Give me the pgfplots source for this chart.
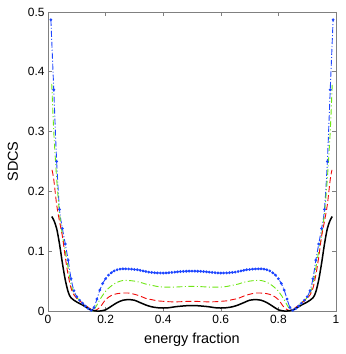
\documentclass[border=0pt]{standalone}
\usepackage{pgfplots}
\pgfplotsset{compat=1.18}
\usepackage{fontspec}
\setmainfont{Liberation Sans}

\definecolor{mblue}{RGB}{30,70,255}
\definecolor{mgreen}{RGB}{110,230,20}
\definecolor{mred}{RGB}{240,10,10}
\definecolor{axgray}{RGB}{128,128,128}

\begin{document}
\begin{tikzpicture}
\begin{axis}[
    scale only axis,
    width=288bp, height=299bp,
    xmin=0, xmax=1, ymin=0, ymax=0.5,
    xtick={0,0.2,0.4,0.6,0.8,1},
    ytick={0,0.1,0.2,0.3,0.4,0.5},
    tick align=inside,
    major tick length=4bp,
    axis line style={axgray, line width=0.8bp},
    every tick/.style={axgray, line width=0.6bp},
    ticklabel style={font=\fontsize{12}{14}\selectfont, black},
    xticklabel style={yshift=-1bp},
    /pgf/number format/assume math mode=true,
    xlabel={energy fraction},
    ylabel={SDCS},
    label style={font=\fontsize{14.5}{16}\selectfont},
    xlabel style={at={(axis description cs:0.5,-0.097)}, anchor=center},
    ylabel style={at={(axis description cs:-0.122,0.5)}, anchor=center},
    clip=true,
]
% blue, dash-dot with dots at the samples
\addplot[mblue, line width=0.9bp, smooth, dash pattern=on 6bp off 2bp on 1bp off 2bp,
    mark=*, mark size=0.9bp, mark options={solid, fill=mblue, draw=mblue}] coordinates {
(0.01,0.487) (0.02,0.37) (0.03,0.25) (0.04,0.17) (0.05,0.138) (0.06,0.112) (0.07,0.085)
(0.08,0.054) (0.09,0.034) (0.10,0.024) (0.11,0.018) (0.12,0.013) (0.13,0.008) (0.14,0.004)
(0.15,0.001) (0.16,0.006) (0.17,0.020) (0.18,0.035) (0.19,0.046) (0.20,0.054) (0.21,0.060)
(0.22,0.064) (0.23,0.067) (0.24,0.069) (0.25,0.070) (0.26,0.0705) (0.27,0.0705) (0.28,0.0703)
(0.29,0.0700) (0.30,0.0695) (0.31,0.0690) (0.32,0.0680) (0.33,0.0670) (0.34,0.0660) (0.35,0.0650)
(0.36,0.0645) (0.37,0.0640) (0.38,0.0637) (0.39,0.0635) (0.40,0.0635) (0.41,0.0637) (0.42,0.0640)
(0.43,0.0645) (0.44,0.0650) (0.45,0.0655) (0.46,0.0660) (0.47,0.0663) (0.48,0.0665) (0.49,0.0667)
(0.50,0.0668)
(0.51,0.0667) (0.52,0.0665) (0.53,0.0663) (0.54,0.0660) (0.55,0.0655) (0.56,0.0650) (0.57,0.0645)
(0.58,0.0640) (0.59,0.0637) (0.60,0.0635) (0.61,0.0635) (0.62,0.0637) (0.63,0.0640) (0.64,0.0645)
(0.65,0.0650) (0.66,0.0660) (0.67,0.0670) (0.68,0.0680) (0.69,0.0690) (0.70,0.0695) (0.71,0.0700)
(0.72,0.0703) (0.73,0.0705) (0.74,0.0705) (0.75,0.070) (0.76,0.069) (0.77,0.067) (0.78,0.064)
(0.79,0.060) (0.80,0.054) (0.81,0.046) (0.82,0.035) (0.83,0.020) (0.84,0.006) (0.85,0.001)
(0.86,0.004) (0.87,0.008) (0.88,0.013) (0.89,0.018) (0.90,0.024) (0.91,0.034) (0.92,0.054)
(0.93,0.085) (0.94,0.112) (0.95,0.138) (0.96,0.17) (0.97,0.25) (0.98,0.37) (0.99,0.487)
};
% green, dash-dot
\addplot[mgreen, line width=0.9bp, smooth, dash pattern=on 6bp off 2.5bp on 1bp off 2.5bp] coordinates {
(0.013,0.38) (0.02,0.30) (0.03,0.222) (0.04,0.163) (0.05,0.127) (0.06,0.100) (0.07,0.072)
(0.08,0.044) (0.09,0.030) (0.10,0.022) (0.12,0.014) (0.14,0.005) (0.155,0.0) (0.17,0.010)
(0.18,0.019) (0.20,0.033) (0.22,0.042) (0.24,0.048) (0.26,0.051) (0.28,0.051) (0.30,0.050)
(0.32,0.048) (0.34,0.045) (0.36,0.043) (0.38,0.041) (0.40,0.040) (0.42,0.0398) (0.44,0.040)
(0.46,0.0405) (0.48,0.041) (0.50,0.0412)
(0.52,0.041) (0.54,0.0405) (0.56,0.040) (0.58,0.0398) (0.60,0.040) (0.62,0.041) (0.64,0.043)
(0.66,0.045) (0.68,0.048) (0.70,0.050) (0.72,0.051) (0.74,0.051) (0.76,0.048) (0.78,0.042)
(0.80,0.033) (0.82,0.019) (0.83,0.010) (0.845,0.0) (0.86,0.005) (0.88,0.014) (0.90,0.022)
(0.91,0.030) (0.92,0.044) (0.93,0.072) (0.94,0.100) (0.95,0.127) (0.96,0.163) (0.97,0.222)
(0.98,0.30) (0.987,0.38)
};
% red, dashed
\addplot[mred, line width=0.9bp, smooth, dash pattern=on 6bp off 3bp] coordinates {
(0.014,0.236) (0.02,0.22) (0.03,0.178) (0.04,0.150) (0.05,0.125) (0.06,0.090) (0.07,0.060)
(0.08,0.038) (0.09,0.027) (0.10,0.021) (0.12,0.013) (0.14,0.006) (0.16,0.0005) (0.18,0.006)
(0.20,0.019) (0.22,0.026) (0.24,0.029) (0.26,0.030) (0.28,0.030) (0.30,0.028) (0.32,0.025)
(0.34,0.021) (0.36,0.019) (0.38,0.017) (0.40,0.0162) (0.42,0.0155) (0.44,0.0153) (0.46,0.0155)
(0.48,0.016) (0.50,0.0162)
(0.52,0.016) (0.54,0.0155) (0.56,0.0153) (0.58,0.0155) (0.60,0.0162) (0.62,0.017) (0.64,0.019)
(0.66,0.021) (0.68,0.025) (0.70,0.028) (0.72,0.030) (0.74,0.030) (0.76,0.029) (0.78,0.026)
(0.80,0.019) (0.82,0.006) (0.84,0.0005) (0.86,0.006) (0.88,0.013) (0.90,0.021) (0.91,0.027)
(0.92,0.038) (0.93,0.060) (0.94,0.090) (0.95,0.125) (0.96,0.150) (0.97,0.178) (0.98,0.22)
(0.986,0.236)
};
% black, solid
\addplot[black, line width=1.5bp, smooth] coordinates {
(0.013,0.158) (0.02,0.152) (0.03,0.138) (0.04,0.112) (0.05,0.080) (0.06,0.052) (0.07,0.032)
(0.08,0.022) (0.10,0.015) (0.12,0.010) (0.14,0.004) (0.16,0.0005) (0.18,0.0) (0.20,0.002)
(0.22,0.008) (0.24,0.014) (0.26,0.018) (0.28,0.019) (0.30,0.018) (0.32,0.014) (0.34,0.010)
(0.36,0.007) (0.38,0.0055) (0.40,0.005) (0.42,0.0055) (0.44,0.007) (0.46,0.008) (0.48,0.0088)
(0.50,0.009)
(0.52,0.0088) (0.54,0.008) (0.56,0.007) (0.58,0.0055) (0.60,0.005) (0.62,0.0055) (0.64,0.007)
(0.66,0.010) (0.68,0.014) (0.70,0.018) (0.72,0.019) (0.74,0.018) (0.76,0.014) (0.78,0.008)
(0.80,0.002) (0.82,0.0) (0.84,0.0005) (0.86,0.004) (0.88,0.010) (0.90,0.015) (0.92,0.022)
(0.93,0.032) (0.94,0.052) (0.95,0.080) (0.96,0.112) (0.97,0.138) (0.98,0.152) (0.987,0.158)
};
\end{axis}
\pgfresetboundingbox
\path (current axis.south west) ++(-48bp,-43bp) rectangle ([shift={(10bp,12bp)}]current axis.north east);
\end{tikzpicture}
\end{document}
